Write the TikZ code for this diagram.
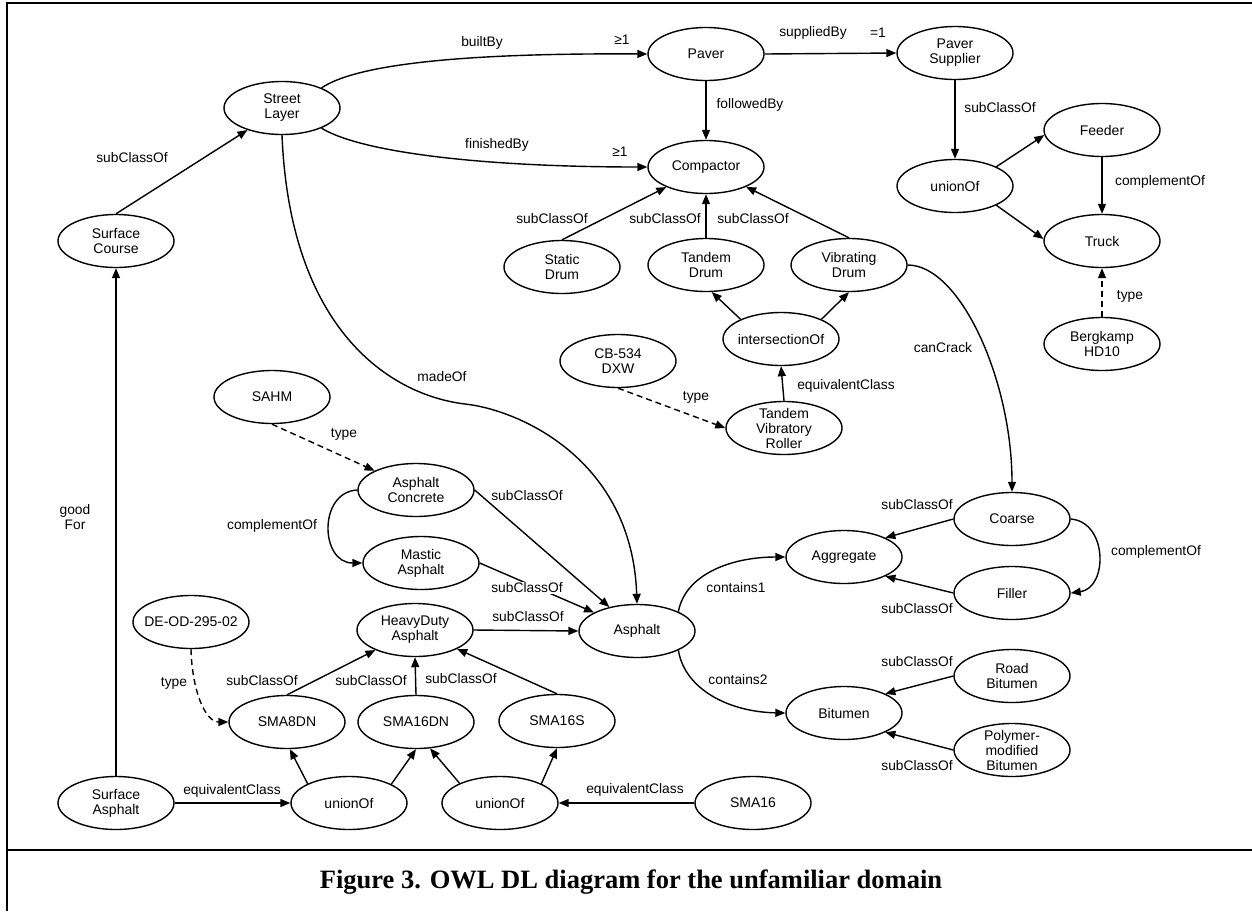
\documentclass[tikz,border=0pt]{standalone}
\usepackage{fontspec}
\setmainfont{Liberation Sans}
\newfontfamily\capfont{Liberation Serif}
\usetikzlibrary{arrows.meta,shapes.geometric}
\newcommand\ov[3]{\node[ov,label={[txt]center:#3}] (#1) at (#2) {};}
\begin{document}
\begin{tikzpicture}[x=1pt,y=-1pt,
  ov/.style={draw,ellipse,minimum width=116pt,minimum height=53pt,inner sep=0pt,line width=1.4pt},
  txt/.style={align=center,font=\fontsize{14}{15}\selectfont,inner sep=0pt},
  lbl/.style={font=\fontsize{13.8}{15.5}\selectfont,inner sep=1pt,align=center},
  con/.style={line width=1.4pt,-{Triangle[length=10pt,width=8pt]}},
  dsh/.style={con,dash pattern=on 6pt off 4pt},
  frame/.style={line width=2.5pt}]
\useasboundingbox (0,0) rectangle (1252,911);
\draw[frame] (1252,3) -- (7,3) -- (7,911);
\draw[frame] (7,850) -- (1252,850);
% nodes
\ov{SL}{282,108}{Street\\Layer}
\ov{SC}{116,241}{Surface\\Course}
\ov{Paver}{706,54}{Paver}
\ov{Comp}{706,167}{Compactor}
\ov{PS}{955,53}{Paver\\Supplier}
\ov{U1}{955,186}{unionOf}
\ov{Feeder}{1102,130}{Feeder}
\ov{Truck}{1102,241}{Truck}
\ov{Berg}{1102,344}{Bergkamp\\HD10}
\ov{SD}{562,267}{Static\\Drum}
\ov{TD}{706,265}{Tandem\\Drum}
\ov{VD}{849,265}{Vibrating\\Drum}
\ov{IO}{781,339}{intersectionOf}
\ov{CB}{618,361}{CB-534\\DXW}
\ov{TVR}{784,428}{Tandem\\Vibratory\\Roller}
\ov{SAHM}{272,397}{SAHM}
\ov{AC}{416,490}{Asphalt\\Concrete}
\ov{MA}{421,563}{Mastic\\Asphalt}
\ov{Asp}{637,631}{Asphalt}
\ov{HDA}{415,630}{HeavyDuty\\Asphalt}
\ov{DE}{191,622}{DE-OD-295-02}
\ov{S8}{287,722}{SMA8DN}
\ov{S16DN}{416,722}{SMA16DN}
\ov{S16S}{557,721}{SMA16S}
\ov{SA}{116,803}{Surface\\Asphalt}
\ov{U2}{349,803}{unionOf}
\ov{U3}{500,803}{unionOf}
\ov{S16}{753,803}{SMA16}
\ov{Coarse}{1012,519}{Coarse}
\ov{Agg}{844,557}{Aggregate}
\ov{Filler}{1012,593}{Filler}
\ov{Bit}{844,713}{Bitumen}
\ov{RB}{1012,676}{Road\\Bitumen}
\ov{PMB}{1012,750}{Polymer-\\modified\\Bitumen}
% connectors
\draw[con] (SC.north) -- (SL);
\draw[con] (SL.27) .. controls (360,62) and (480,53) .. (Paver.west);
\draw[con] (SL.-27) .. controls (360,152) and (480,167) .. (Comp.west);
\draw[con] (Paver.east) -- (PS.west);
\draw[con] (Paver.south) -- (Comp.north);
\draw[con] (PS.south) -- (U1.north);
\draw[con] (U1.25) -- (Feeder.185);
\draw[con] (U1.-25) -- (Truck.178);
\draw[con] (Feeder.south) -- (Truck.north);
\draw[dsh] (Berg.north) -- (Truck.south);
\draw[con] (SD.north) -- (Comp);
\draw[con] (TD.north) -- (Comp.south);
\draw[con] (VD.north) -- (Comp);
\draw[con] (IO.154) -- (TD.-78);
\draw[con] (IO.26) -- (VD.south);
\draw[con] (TVR.north) -- (IO.south);
\draw[dsh] (CB.south) -- (TVR.west);
\draw[con] (VD.east) .. controls (960,265) and (1012,380) .. (Coarse.north);
\draw[dsh] (SAHM.south) -- (AC.155);
\draw[con] (AC.west) .. controls (318,492) and (320,563) .. (MA.west);
\draw[con] (AC.east) -- (Asp);
\draw[con] (MA.east) -- (Asp);
\draw[con] (HDA.east) -- (Asp.west);
\draw[con] (SL.south) .. controls (290,330) and (390,395) .. (465,404)
   .. controls (520,410) and (632,460) .. (Asp.north);
\draw[con] (Asp.25) .. controls (685,575) and (730,557) .. (Agg.west);
\draw[con] (Asp.-25) .. controls (685,690) and (730,712) .. (Bit.west);
\draw[con] (Coarse.west) -- (Agg.25);
\draw[con] (Filler.west) -- (Agg.-25);
\draw[con] (Coarse.east) .. controls (1108,522) and (1108,588) .. (Filler.east);
\draw[con] (RB.west) -- (Bit.25);
\draw[con] (PMB.west) -- (Bit.-25);
\draw[con] (SA.north) -- (SC.south);
\draw[con] (SA.east) -- (U2.west);
\draw[con] (U2.155) -- (S8.-84);
\draw[con] (U2.24) -- (S16DN.south);
\draw[con] (U3.154) -- (S16DN.-62);
\draw[con] (U3.25) -- (S16S.south);
\draw[con] (S16.west) -- (U3.east);
\draw[con] (S8.north) -- (HDA);
\draw[con] (S16DN.north) -- (HDA.south);
\draw[con] (S16S.north) -- (HDA);
\draw[dsh] (DE.south) .. controls (192,690) and (205,722) .. (S8.west);
% labels
\node[lbl] (l1) at (132,158) {subClassOf};
\node[lbl] (l2) at (482,43) {builtBy};
\node[lbl] (l3) at (622,40) {≥1};
\node[lbl] (l4) at (497,145) {finishedBy};
\node[lbl] (l5) at (620,152) {≥1};
\node[lbl] (l6) at (813,33) {suppliedBy};
\node[lbl] (l7) at (878,33) {=1};
\node[lbl] (l8) at (750,105) {followedBy};
\node[lbl] (l9) at (1000,108) {subClassOf};
\node[lbl] (l10) at (1160,182) {complementOf};
\node[lbl] (l11) at (1130,296) {type};
\node[lbl] (l12) at (552,219) {subClassOf};
\node[lbl] (l13) at (665,219) {subClassOf};
\node[lbl] (l14) at (753,219) {subClassOf};
\node[lbl] (l15) at (943,348) {canCrack};
\node[lbl] (l16) at (846,386) {equivalentClass};
\node[lbl] (l17) at (696,397) {type};
\node[lbl] (l18) at (442,377) {madeOf};
\node[lbl] (l19) at (344,434) {type};
\node[lbl] (l20) at (527,496) {subClassOf};
\node[lbl] (l21) at (272,526) {complementOf};
\node[lbl] (l22) at (75,517) {good\\For};
\node[lbl,fill=white] (l23) at (527,588) {subClassOf};
\node[lbl] (l24) at (528,617) {subClassOf};
\node[lbl] (l25) at (736,588) {contains1};
\node[lbl] (l26) at (738,680) {contains2};
\node[lbl] (l27) at (917,505) {subClassOf};
\node[lbl] (l28) at (1156,552) {complementOf};
\node[lbl] (l29) at (917,609) {subClassOf};
\node[lbl] (l30) at (917,662) {subClassOf};
\node[lbl] (l31) at (917,766) {subClassOf};
\node[lbl] (l32) at (174,683) {type};
\node[lbl] (l33) at (262,681) {subClassOf};
\node[lbl] (l34) at (371,681) {subClassOf};
\node[lbl] (l35) at (461,679) {subClassOf};
\node[lbl] (l36) at (232,791) {equivalentClass};
\node[lbl] (l37) at (635,790) {equivalentClass};
\node[font=\capfont\bfseries\fontsize{26.5}{30}\selectfont] (cap) at (631,882) {Figure 3. OWL DL diagram for the unfamiliar domain};
\end{tikzpicture}
\end{document}
